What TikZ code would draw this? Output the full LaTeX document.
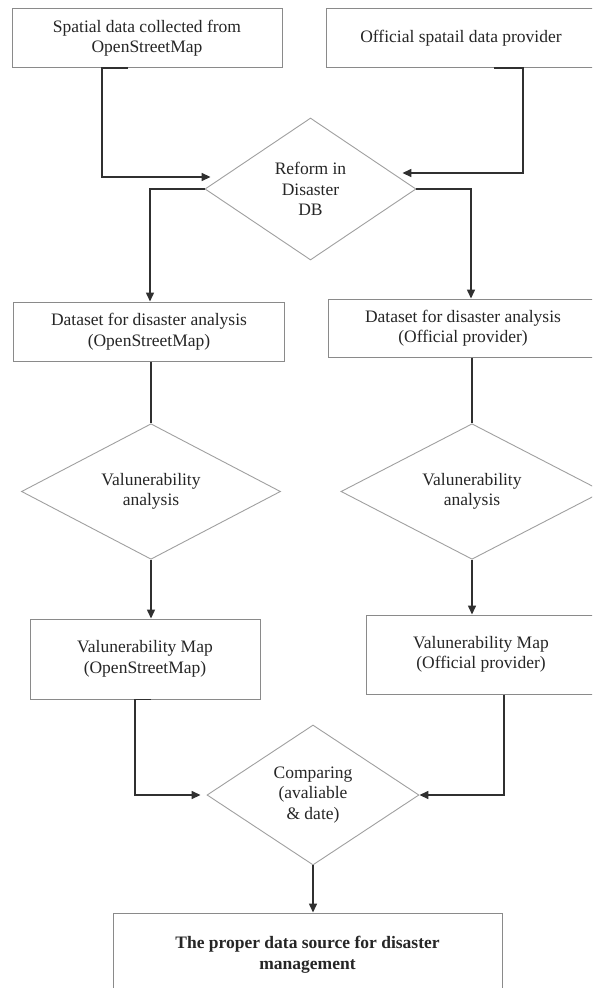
\documentclass[tikz,border=0pt]{standalone}
\usepackage{fontspec}
\setmainfont{Liberation Serif}
\usetikzlibrary{shapes.geometric,arrows.meta,calc}
\definecolor{boxgray}{HTML}{8A8A8A}
\definecolor{dmdgray}{HTML}{A0A0A0}
\definecolor{linedark}{HTML}{303030}
\definecolor{txt}{HTML}{262626}
\begin{document}
\begin{tikzpicture}[x=1pt,y=-1pt,
  every node/.style={font=\fontsize{17.5}{20.5}\selectfont, text=txt, align=center},
  box/.style={draw=boxgray, line width=1pt, rectangle, inner sep=0pt},
  dmd/.style={draw=dmdgray, line width=0.9pt, diamond, inner sep=0pt},
  conn/.style={draw=linedark, line width=1.5pt},
  arr/.style={conn, -{Triangle[length=9pt,width=8pt]}}]
\useasboundingbox (0,0) rectangle (592,988);
\clip (0,0) rectangle (592,988);
\fill[white] (0,0) rectangle (592,988);

\node[box, minimum width=270pt, minimum height=59pt] (src1) at (147,38) {Spatial data collected from\\OpenStreetMap};
\node[box, minimum width=270pt, minimum height=59pt] (src2) at (461,38) {Official spatail data provider};
\node[dmd, minimum width=211pt, minimum height=142pt] (reform) at (310.5,189) {Reform in\\Disaster\\DB};
\node[box, minimum width=271pt, minimum height=59pt] (ds1) at (149,331.5) {Dataset for disaster analysis\\(OpenStreetMap)};
\node[box, minimum width=270pt, minimum height=58pt] (ds2) at (463,328) {Dataset for disaster analysis\\(Official provider)};
\node[dmd, minimum width=259pt, minimum height=109pt] (va1) at (151,491.5) {Valunerability\\analysis};
\node[dmd, minimum width=262pt, minimum height=109pt] (va2) at (472,491.5) {Valunerability\\analysis};
\node[box, minimum width=230pt, minimum height=80pt] (map1) at (145,659) {Valunerability Map\\(OpenStreetMap)};
\node[box, minimum width=230pt, minimum height=79pt] (map2) at (481,654.5) {Valunerability Map\\(Official provider)};
\node[dmd, minimum width=212pt, minimum height=140pt] (cmp) at (313,795) {Comparing\\(avaliable\\\& date)};
\node[box, minimum width=389pt, minimum height=84pt, font=\fontsize{17.5}{20.5}\selectfont\bfseries] (res) at (307.5,955) {The proper data source for disaster\\management};

\draw[arr] ($(src1.south)+(-19,0)$) -- ($(src1.south)+(-45,0)$) |- ($(reform.west)+(6,-12)$);
\draw[arr] ($(src2.south)+(33,0)$) -- ($(src2.south)+(62,0)$) |- ($(reform.east)+(-14,-16)$);
\draw[arr] (reform.west) -| ($(ds1.north)+(1,0)$);
\draw[arr] (reform.east) -| ($(ds2.north)+(8,0)$);
\draw[conn] (va1.north |- ds1.south) -- (va1.north);
\draw[conn] (va2.north |- ds2.south) -- (va2.north);
\draw[arr] (va1.south) -- (va1.south |- map1.north);
\draw[arr] (va2.south) -- (va2.south |- map2.north);
\draw[arr] ($(map1.south)+(6,0)$) -- ($(map1.south)+(-10,0)$) |- ($(cmp.west)+(-6,0)$);
\draw[arr] ($(map2.south)+(23,0)$) |- (cmp.east);
\draw[arr] (cmp.south) -- (cmp.south |- res.north);
\end{tikzpicture}
\end{document}
